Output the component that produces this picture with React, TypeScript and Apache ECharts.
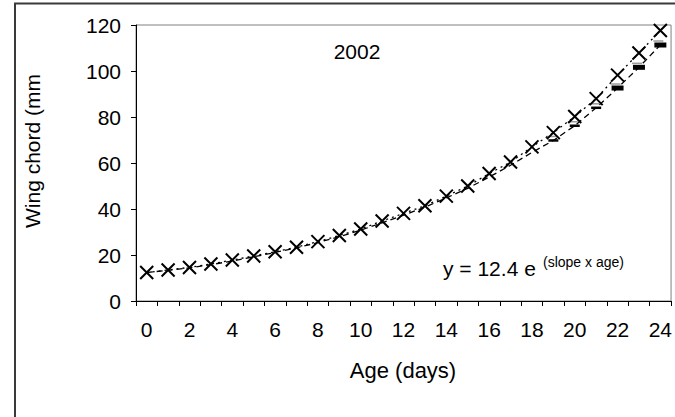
import React, { useEffect, useRef } from "react";
import * as echarts from "echarts";

// Age in days (category axis, one tick per day, labels every second day)
const ages: string[] = Array.from({ length: 25 }, (_, i) => String(i));

// Measured wing chord (mm) for each age
const measured: number[] = [
  12.4, 13.5, 14.6, 16.1, 17.8, 19.6, 21.4, 23.4, 25.8, 28.5, 31.3, 34.8, 38.1,
  41.4, 45.6, 50.0, 55.4, 60.4, 67.0, 73.2, 80.2, 88.0, 98.2, 107.8, 117.6,
];

// Exponential fit y = 12.4 e^(slope x age)
const fitted: number[] = [
  12.4, 13.3, 14.4, 15.8, 17.4, 19.2, 21.1, 23.1, 25.4, 28.0, 30.8, 34.0, 37.3,
  40.8, 44.8, 49.0, 53.9, 59.0, 64.6, 69.8, 76.2, 84.0, 92.6, 101.6, 111.3,
];

// Fitted points drawn with a marker (later ages only); the last ones heavier
const firstMarkedAge = 19;
const firstHeavyAge = 22;

const yTicks = { min: 0, max: 120, interval: 20 };

const FONT = "'Liberation Sans', Arial, sans-serif";

export default function App() {
  const ref = useRef<HTMLDivElement>(null);

  useEffect(() => {
    if (!ref.current) return;
    const chart = echarts.init(ref.current, null, { renderer: "svg" });

    const fittedItems = fitted.map((v, i) => {
      if (i < firstMarkedAge) return { value: v, symbol: "none" };
      if (i < firstHeavyAge) return { value: v, symbolSize: [10, 2.5] };
      return { value: v, symbolSize: [12, 5] };
    });

    chart.setOption({
      animation: false,
      backgroundColor: "#ffffff",
      textStyle: { fontFamily: FONT },
      grid: {
        left: 136,
        top: 25,
        right: 2,
        bottom: 116,
        show: true,
        borderColor: "#808080",
        borderWidth: 1,
        backgroundColor: "transparent",
      },
      xAxis: {
        type: "category",
        data: ages,
        boundaryGap: true,
        axisLine: { lineStyle: { color: "#000", width: 1 } },
        axisTick: { show: true, interval: 0, length: 5, inside: false, lineStyle: { color: "#000" } },
        axisLabel: { interval: 1, margin: 18, fontSize: 21, color: "#000", fontFamily: FONT },
        splitLine: { show: false },
      },
      yAxis: {
        type: "value",
        min: yTicks.min,
        max: yTicks.max,
        interval: yTicks.interval,
        axisLine: { show: true, lineStyle: { color: "#000", width: 1 } },
        axisTick: { show: true, length: 5, inside: false, lineStyle: { color: "#000" } },
        axisLabel: { margin: 15, fontSize: 21, color: "#000", fontFamily: FONT },
        splitLine: { show: false },
      },
      series: [
        {
          name: "fit",
          type: "line",
          data: fittedItems,
          symbol: "rect",
          symbolSize: [10, 4],
          itemStyle: { color: "#000" },
          lineStyle: { color: "#000", width: 1.3, type: [6, 4] },
          z: 2,
        },
        {
          name: "fit shade",
          type: "line",
          data: fittedItems.map((d) => ({ value: d.value, symbol: d.symbol })),
          symbol: "rect",
          symbolSize: [10, 1.5],
          symbolOffset: [-2, -4],
          itemStyle: { color: "#9a9a9a" },
          lineStyle: { width: 0 },
          z: 1,
        },
        {
          name: "measured",
          type: "line",
          data: measured,
          symbol: "path://M0,0L10,10M10,0L0,10",
          symbolSize: 13,
          itemStyle: { color: "#000", borderColor: "#000", borderWidth: 2 },
          lineStyle: { color: "#000", width: 1.3, type: [2, 4] },
          z: 3,
        },
      ],
      graphic: [
        {
          type: "rect",
          silent: true,
          shape: { x: 15, y: 3.5, width: 720, height: 520 },
          style: { fill: "none", stroke: "#3a3a3a", lineWidth: 2 },
        },
        {
          type: "text",
          x: 357,
          y: 51,
          style: { text: "2002", font: `21px ${FONT}`, fill: "#000", align: "center", verticalAlign: "middle" },
        },
        {
          type: "text",
          x: 32,
          y: 151,
          rotation: Math.PI / 2,
          style: { text: "Wing chord (mm", font: `21px ${FONT}`, fill: "#000", align: "center", verticalAlign: "middle" },
        },
        {
          type: "text",
          x: 403,
          y: 370,
          style: { text: "Age (days)", font: `22px ${FONT}`, fill: "#000", align: "center", verticalAlign: "middle" },
        },
        {
          type: "text",
          x: 443,
          y: 268,
          style: { text: "y = 12.4 e", font: `21px ${FONT}`, fill: "#000", align: "left", verticalAlign: "middle" },
        },
        {
          type: "text",
          x: 543,
          y: 262,
          style: { text: "(slope x age)", font: `14px ${FONT}`, fill: "#000", align: "left", verticalAlign: "middle" },
        },
      ],
    });

    return () => chart.dispose();
  }, []);

  return (
    <div
      ref={ref}
      style={{ position: "absolute", left: 0, top: 0, width: 675, height: 417 }}
    />
  );
}
